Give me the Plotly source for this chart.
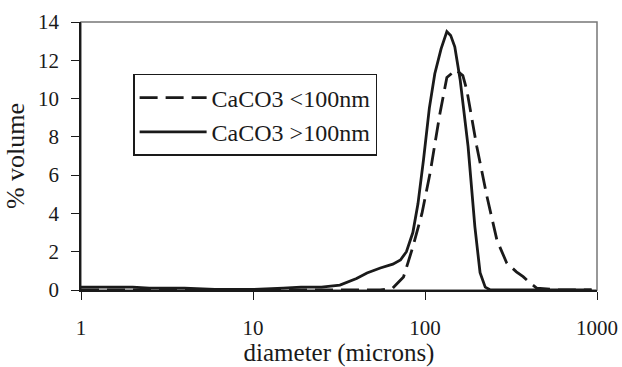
import plotly.graph_objects as go

# Particle size distributions (diameter in microns, % volume)
diam_small = [1, 10, 40, 55, 65, 75, 85, 96, 107, 122, 134, 151, 166, 175, 200, 229,
              262, 299, 340, 372, 408, 446, 600, 930]
vol_small = [0, 0, 0, 0, 0.1, 0.68, 2.25, 4.0, 6.1, 9.2, 11.1, 11.5, 11.2, 10.45, 7.5, 4.9,
             2.6, 1.4, 0.95, 0.7, 0.37, 0.1, 0, 0]

diam_large = [1, 2, 2.5, 4, 6, 10, 15, 19, 25, 32, 40, 46, 55, 65, 72, 78, 85, 91, 98, 106,
              114, 124, 134, 141, 149, 160, 178, 195, 209, 224, 240, 400, 930]
vol_large = [0.15, 0.15, 0.1, 0.1, 0.03, 0.03, 0.1, 0.15, 0.15, 0.26, 0.6, 0.89, 1.15, 1.35, 1.57,
             2.0, 3.0, 4.5, 6.8, 9.5, 11.3, 12.6, 13.5, 13.3, 12.7, 11.0, 7.5, 3.3, 0.9, 0.15, 0, 0, 0]

label_small = "CaCO3 <100nm"
label_large = "CaCO3 >100nm"

x_ticks = [1, 10, 100, 1000]
y_ticks = [0, 2, 4, 6, 8, 10, 12, 14]

FONT = "'Liberation Serif', 'Times New Roman', Times, serif"

fig = go.Figure()
fig.add_trace(go.Scatter(
    x=diam_small, y=vol_small, mode="lines", name=label_small,
    line=dict(color="#1a1a1a", width=2.8, dash="18px,8px"),
))
fig.add_trace(go.Scatter(
    x=diam_large, y=vol_large, mode="lines", name=label_large,
    line=dict(color="#1a1a1a", width=2.8),
))

# thin grey frame on top/right of the plot area
fig.add_shape(type="rect", xref="paper", yref="paper", x0=0, y0=0, x1=1, y1=1,
              line=dict(color="#777777", width=1.5), layer="below")

fig.update_layout(
    width=622, height=367,
    margin=dict(l=81, r=25, t=22, b=77, autoexpand=False),
    paper_bgcolor="white", plot_bgcolor="white",
    font=dict(family=FONT, color="#1a1a1a", size=21),
    showlegend=True,
    legend=dict(
        x=0.101, y=0.806, xanchor="left", yanchor="top",
        bgcolor="white", bordercolor="#1a1a1a", borderwidth=1.5,
        font=dict(family=FONT, size=24, color="#1a1a1a"),
        itemwidth=67, traceorder="normal",
    ),
)

fig.update_xaxes(
    type="log", range=[0, 3], automargin=False,
    tickvals=x_ticks, ticktext=[str(v) for v in x_ticks],
    ticks="outside", ticklen=8, tickwidth=1.3, tickcolor="#1a1a1a",
    showline=True, linecolor="#1a1a1a", linewidth=1.5,
    showgrid=False, zeroline=False,
    ticklabelstandoff=10,
    tickfont=dict(family=FONT, size=21),
    title=dict(text="diameter (microns)", font=dict(family=FONT, size=25), standoff=9),
)
fig.update_yaxes(
    range=[0, 14], automargin=False,
    tickvals=y_ticks,
    ticks="outside", ticklen=8, tickwidth=1.3, tickcolor="#1a1a1a",
    showline=True, linecolor="#1a1a1a", linewidth=1.5,
    showgrid=False, zeroline=False,
    ticklabelstandoff=8,
    tickfont=dict(family=FONT, size=21),
    title=dict(text="% volume", font=dict(family=FONT, size=26), standoff=6),
)

fig.write_html("out.html")
